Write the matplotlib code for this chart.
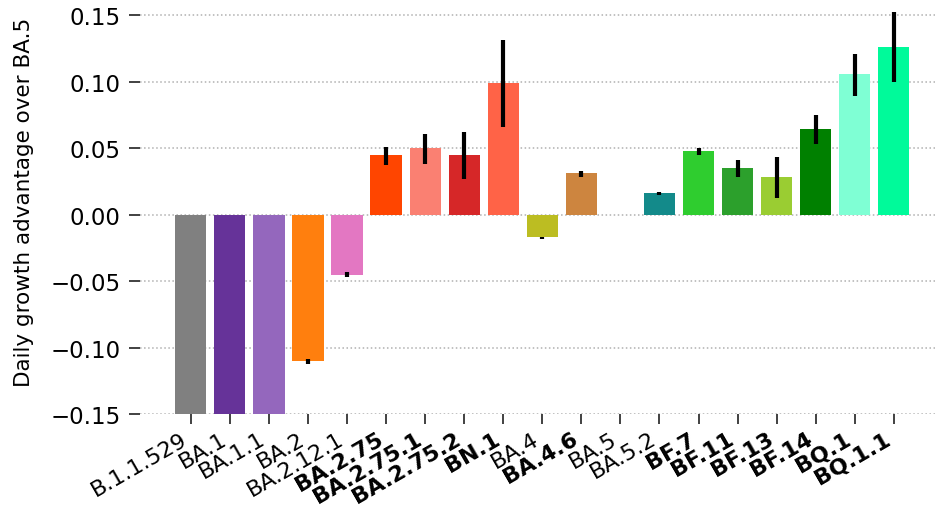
import matplotlib
matplotlib.use("Agg")
import matplotlib.pyplot as plt
import numpy as np

lineages = ["B.1.1.529", "BA.1", "BA.1.1", "BA.2", "BA.2.12.1", "BA.2.75",
            "BA.2.75.1", "BA.2.75.2", "BN.1", "BA.4", "BA.4.6", "BA.5",
            "BA.5.2", "BF.7", "BF.11", "BF.13", "BF.14", "BQ.1", "BQ.1.1"]
bold = ["BA.2.75", "BA.2.75.1", "BA.2.75.2", "BN.1", "BA.4.6", "BF.7",
        "BF.11", "BF.13", "BF.14", "BQ.1", "BQ.1.1"]
advantage = [-0.19, -0.20, -0.19, -0.1095, -0.045, 0.045,
             0.050, 0.045, 0.099, -0.017, 0.031, 0.0,
             0.016, 0.048, 0.035, 0.0285, 0.0645, 0.106, 0.126]
err_low = [-0.20, -0.21, -0.20, -0.112, -0.047, 0.0375,
           0.038, 0.027, 0.066, -0.0185, 0.028, 0.0,
           0.015, 0.045, 0.0285, 0.0128, 0.053, 0.089, 0.100]
err_high = [-0.18, -0.19, -0.18, -0.108, -0.043, 0.051,
            0.061, 0.062, 0.131, -0.0165, 0.033, 0.0,
            0.0168, 0.050, 0.041, 0.0435, 0.075, 0.121, 0.155]
colors = ["#808080", "#663399", "#9467bd", "#ff7f0e", "#e377c2", "#ff4500",
          "#fa8072", "#d62728", "#ff6347", "#bcbd22", "#cd853f", "#ffffff",
          "#138a8a", "#2fcd2f", "#2ca02c", "#9acd32", "#008000", "#7fffd4", "#00fa9a"]
yticks = [-0.15, -0.10, -0.05, 0.00, 0.05, 0.10, 0.15]

fig = plt.figure(figsize=(9.35, 5.06), dpi=100)
ax = fig.add_axes([140 / 935, 0.1789, 804.6 / 935, 0.7954])

x = np.arange(len(lineages))
adv = np.array(advantage)
lo = adv - np.array(err_low)
hi = np.array(err_high) - adv
ax.bar(x, adv, width=0.8, color=colors, zorder=2)
ax.errorbar(x, adv, yerr=[lo, hi], fmt="none", ecolor="black",
            elinewidth=3, capsize=0, zorder=3)

ax.set_xlim(-1.3, 19.3)
ax.set_ylim(-0.15, 0.1523)
ax.set_yticks(yticks)
ax.set_yticklabels([f"{v:.2f}".replace("-", "\u2212") for v in yticks])
ax.set_xticks(x)
ax.set_xticklabels(lineages, rotation=30, ha="right")
for lab in ax.get_xticklabels():
    if lab.get_text() in bold:
        lab.set_fontweight("bold")
ax.tick_params(axis="x", labelsize=16, length=7, width=1.3, color="#333333", pad=3)
ax.tick_params(axis="y", labelsize=16.5, length=8, width=1.3, color="#333333", pad=6)
ax.set_ylabel("Daily growth advantage over BA.5", fontsize=15.5)
ax.yaxis.set_label_coords(-0.132, 0.53)
ax.grid(axis="y", linestyle=":", color="#b0b0b0", linewidth=1.1, zorder=0)
for s in ax.spines.values():
    s.set_visible(False)

fig.savefig("out.png", dpi=100)
